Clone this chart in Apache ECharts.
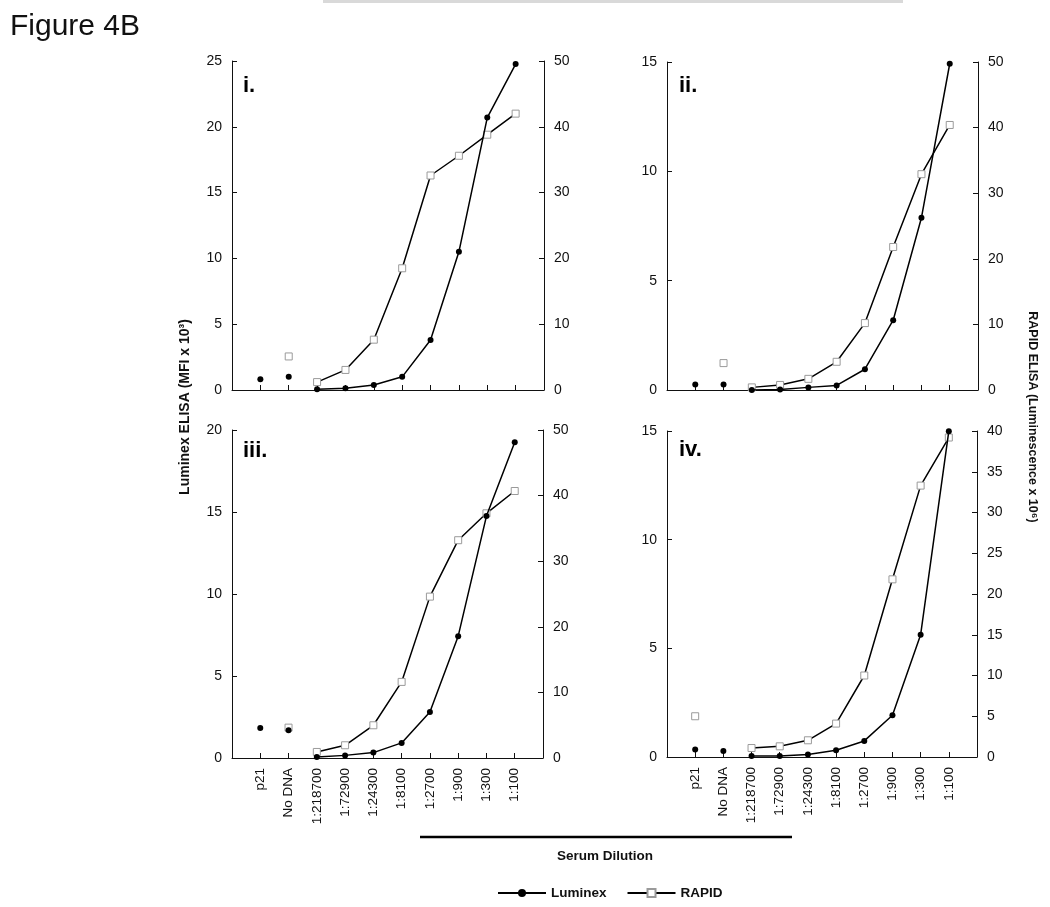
<!DOCTYPE html>
<html>
<head>
<meta charset="utf-8">
<script src="https://cdn.jsdelivr.net/npm/echarts@6/dist/echarts.min.js"></script>
<style>html,body{margin:0;padding:0;background:#fff}#c{width:1050px;height:907px}</style>
</head>
<body>
<div id="c"></div>
<script>
// ---- data ----
const categories = ['p21','No DNA','1:218700','1:72900','1:24300','1:8100','1:2700','1:900','1:300','1:100'];
const panelLabels = ['i.','ii.','iii.','iv.'];
// Luminex ELISA (MFI x 10^3), left axis
const luminexI   = [0.82, 1.0, 0.05, 0.13, 0.38, 1.0, 3.8, 10.5, 20.7, 24.77];
const luminexII  = [0.25, 0.25, 0.0, 0.02, 0.12, 0.21, 0.95, 3.19, 7.88, 14.92];
const luminexIII = [1.83, 1.69, 0.06, 0.16, 0.33, 0.92, 2.81, 7.43, 14.75, 19.25];
const luminexIV  = [0.35, 0.28, 0.05, 0.05, 0.12, 0.31, 0.74, 1.92, 5.63, 14.99];
// RAPID ELISA (Luminescence x 10^6), right axis
const rapidI   = [null, 5.1, 1.2, 3.05, 7.65, 18.5, 32.6, 35.6, 38.8, 42.0];
const rapidII  = [null, 4.1, 0.4, 0.77, 1.7, 4.3, 10.2, 21.8, 32.9, 40.4];
const rapidIII = [null, 4.63, 0.92, 1.94, 4.99, 11.6, 24.6, 33.2, 37.3, 40.7];
const rapidIV  = [5.0, null, 1.1, 1.31, 2.05, 4.1, 10.0, 21.8, 33.3, 39.2];
// axis scales
const leftMax  = [25, 15, 20, 15];
const leftStep = [5, 5, 5, 5];
const rightMax  = [50, 50, 50, 40];
const rightStep = [10, 10, 10, 5];

const luminex = [luminexI, luminexII, luminexIII, luminexIV];
const rapid = [rapidI, rapidII, rapidIII, rapidIV];

// ---- layout ----
const FONT = 'Liberation Sans, Arial, Helvetica, sans-serif';
const grids = [
  {left: 232, top: 61, width: 312, height: 329},
  {left: 667, top: 62, width: 311, height: 328},
  {left: 232, top: 430, width: 311, height: 328},
  {left: 667, top: 431, width: 310, height: 326}
];
const labelPos = [[243, 86], [679, 86], [243, 451], [679, 450]];

const xAxes = [], yAxes = [], series = [];
const axisLineStyle = {color: '#111', width: 1};

function ctrlPts(arr) {
  const out = [];
  for (let i = 0; i < 2; i++) if (arr[i] != null) out.push([i + 1, arr[i]]);
  return out;
}
function dilPts(arr) {
  const out = [];
  for (let i = 2; i < arr.length; i++) if (arr[i] != null) out.push([i + 1, arr[i]]);
  return out;
}

const lumStyle = {
  symbol: 'circle', symbolSize: 6,
  itemStyle: {color: '#000', opacity: 1},
  lineStyle: {color: '#000', width: 1.5}
};
const rapStyle = {
  symbol: 'rect', symbolSize: 7,
  itemStyle: {color: '#fff', borderColor: '#9a9a9a', borderWidth: 1, opacity: 1},
  lineStyle: {color: '#000', width: 1.5}
};

for (let p = 0; p < 4; p++) {
  xAxes.push({
    type: 'value', gridIndex: p, min: 0, max: 11, interval: 1,
    axisLine: {lineStyle: axisLineStyle},
    axisTick: {inside: true, length: 5, lineStyle: axisLineStyle},
    splitLine: {show: false},
    axisLabel: {
      show: p >= 2,
      rotate: 90, margin: 10, fontSize: 13.5, color: '#111', fontFamily: FONT,
      formatter: v => categories[v - 1] || ''
    }
  });
  yAxes.push({
    type: 'value', gridIndex: p, position: 'left', min: 0, max: leftMax[p], interval: leftStep[p],
    axisLine: {show: true, lineStyle: axisLineStyle},
    axisTick: {show: true, inside: true, length: 5, lineStyle: axisLineStyle},
    splitLine: {show: false},
    axisLabel: {margin: 10, fontSize: 14, color: '#111', fontFamily: FONT}
  });
  yAxes.push({
    type: 'value', gridIndex: p, position: 'right', min: 0, max: rightMax[p], interval: rightStep[p],
    axisLine: {show: true, lineStyle: axisLineStyle},
    axisTick: {show: true, inside: true, length: 5, lineStyle: axisLineStyle},
    splitLine: {show: false},
    axisLabel: {margin: 10, fontSize: 14, color: '#111', fontFamily: FONT}
  });
  const yl = 2 * p, yr = 2 * p + 1;
  series.push(Object.assign({type: 'line', name: 'Luminex', xAxisIndex: p, yAxisIndex: yl,
    data: dilPts(luminex[p]), showSymbol: true, z: 3, animation: false}, lumStyle));
  series.push(Object.assign({type: 'line', name: 'RAPID', xAxisIndex: p, yAxisIndex: yr,
    data: dilPts(rapid[p]), showSymbol: true, z: 2, animation: false}, rapStyle));
  series.push({type: 'scatter', name: 'Luminex', xAxisIndex: p, yAxisIndex: yl,
    data: ctrlPts(luminex[p]), symbol: 'circle', symbolSize: 6,
    itemStyle: {color: '#000', opacity: 1}, z: 3, animation: false});
  series.push({type: 'scatter', name: 'RAPID', xAxisIndex: p, yAxisIndex: yr,
    data: ctrlPts(rapid[p]), symbol: 'rect', symbolSize: 7,
    itemStyle: {color: '#fff', borderColor: '#9a9a9a', borderWidth: 1, opacity: 1}, z: 2, animation: false});
}

const graphic = [
  {type: 'rect', shape: {x: 323, y: 0, width: 580, height: 3}, style: {fill: '#d9d9d9'}},
  {type: 'text', x: 10, y: 27, style: {text: 'Figure 4B', font: '30px ' + FONT, fill: '#111', verticalAlign: 'middle'}},
  {type: 'text', x: 185, y: 407, rotation: Math.PI / 2,
    style: {text: 'Luminex ELISA (MFI x 10³)', font: 'bold 14px ' + FONT, fill: '#111', align: 'center', verticalAlign: 'middle'}},
  {type: 'text', x: 1032, y: 417, rotation: -Math.PI / 2,
    style: {text: 'RAPID ELISA (Luminescence x 10⁶)', font: 'bold 12.5px ' + FONT, fill: '#111', align: 'center', verticalAlign: 'middle'}},
  {type: 'line', shape: {x1: 420, y1: 837, x2: 792, y2: 837}, style: {stroke: '#000', lineWidth: 2.5}},
  {type: 'text', x: 605, y: 856, style: {text: 'Serum Dilution', font: 'bold 13.5px ' + FONT, fill: '#111', align: 'center', verticalAlign: 'middle'}}
];
for (let p = 0; p < 4; p++) {
  graphic.push({type: 'text', x: labelPos[p][0], y: labelPos[p][1],
    style: {text: panelLabels[p], font: 'bold 22px ' + FONT, fill: '#000', verticalAlign: 'middle'}});
}

const chart = echarts.init(document.getElementById('c'), null, {renderer: 'canvas'});
chart.setOption({
  animation: false,
  backgroundColor: '#fff',
  grid: grids,
  xAxis: xAxes,
  yAxis: yAxes,
  series: series,
  legend: {
    data: ['Luminex', 'RAPID'],
    left: 497, top: 886, padding: 0, itemWidth: 48, itemHeight: 10, itemGap: 20,
    textStyle: {fontFamily: FONT, fontWeight: 'bold', fontSize: 13.5, color: '#111'},
    selectedMode: false
  },
  graphic: graphic
});
</script>
</body>
</html>
